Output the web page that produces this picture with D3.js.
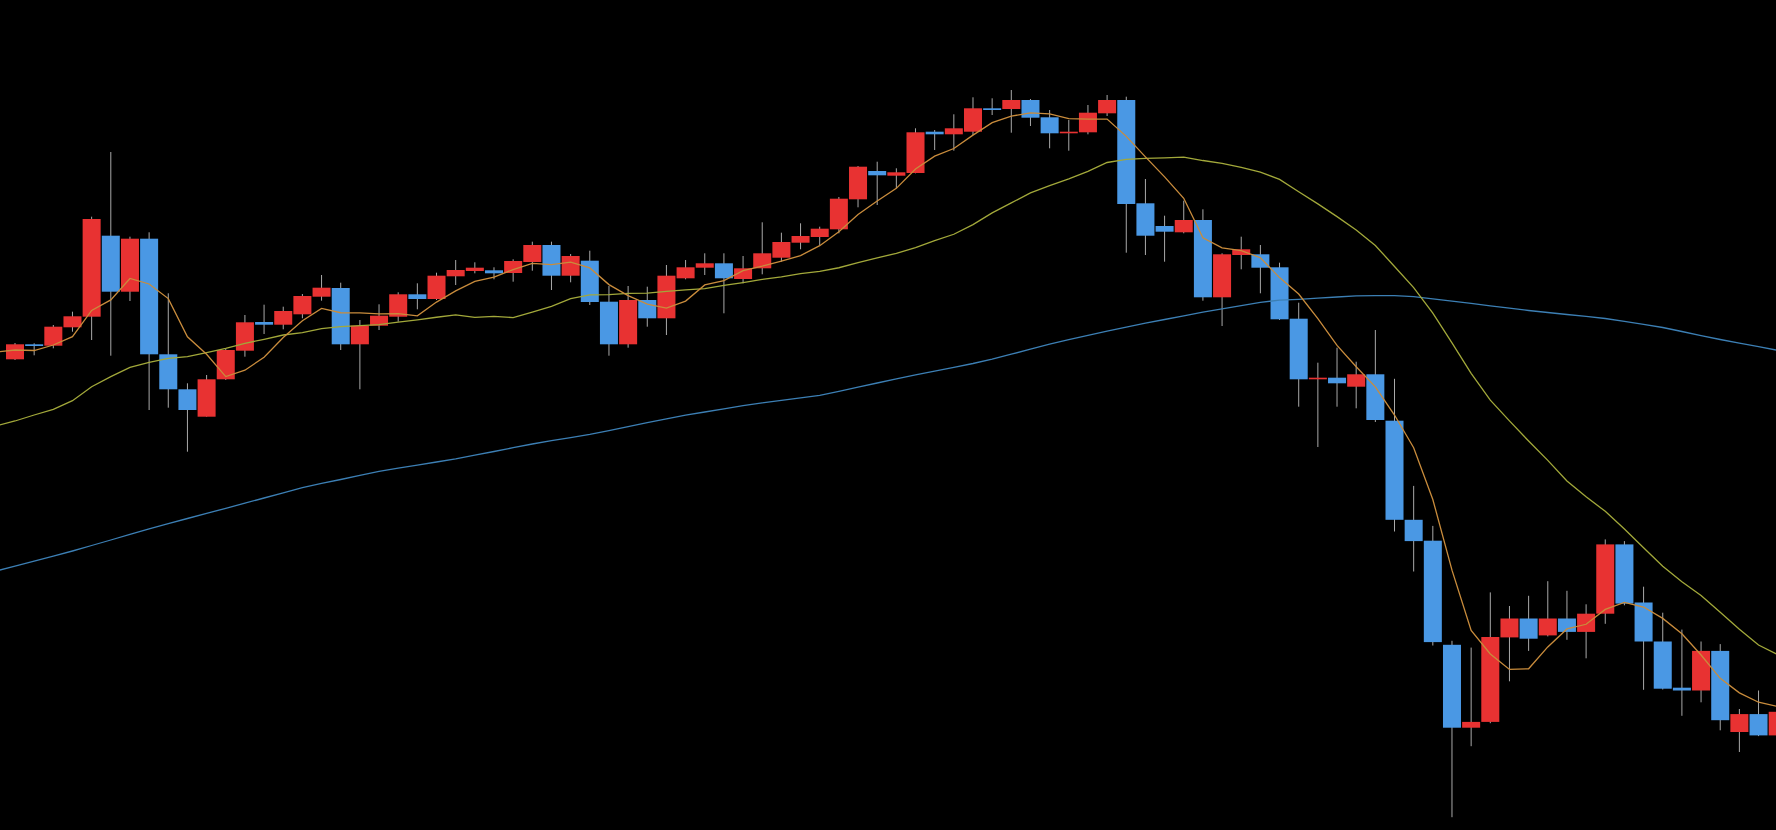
<!DOCTYPE html>
<html lang="en">
<head>
  <meta charset="UTF-8">
  <script src="https://d3js.org/d3.v7.min.js"></script>
  <style>
    body {
      background-color: #000;
      margin: 0;
      overflow: hidden;
    }

    svg {
      display: block;
    }
  </style>
</head>
<body>

<svg></svg>

<script>
  // daily bars, oldest first
  const opens = [
    640.7, 655.7, 654.3, 672.7, 683.3, 764.3, 708.3, 761.3, 645.7, 610.7,
    583.3, 620.7, 649.3, 678, 675.3, 685.7, 703.3, 712, 655.7, 674.3,
    683.3, 705.7, 701, 723.7, 729, 729.7, 727, 738, 755, 724.3,
    739.3, 698.3, 655.7, 700, 681.7, 721.7, 732.3, 736.7, 721, 731.7,
    742.3, 757.3, 763, 770.7, 800.7, 829, 824.3, 827, 868.3, 865.7,
    868.3, 891.7, 891, 900, 882.7, 866.7, 867.7, 886.7, 900, 796.7,
    774, 767.7, 780, 702.7, 745, 745.7, 732.7, 681.3, 620.7, 622.3,
    613.3, 625.7, 579.3, 480.2, 459.3, 355.2, 272.3, 278.1, 362.6, 381.5,
    364.6, 381.5, 368.1, 386.3, 455.6, 397.5, 358.5, 312.3, 309.5, 349.1,
    268, 285.9, 264.6
  ];
  const highs = [
    657, 656.7, 675, 688.3, 783.3, 848, 763.3, 767.7, 706.7, 616.7,
    625, 651, 685, 695.3, 693.3, 706, 725, 717.3, 680, 695.7,
    707.7, 716.7, 727.3, 740, 737.7, 732.7, 740.7, 758.3, 758.3, 746,
    749.3, 714, 714, 713.3, 735, 740, 746.7, 746.7, 744, 777.7,
    767.3, 776.7, 773.3, 803, 834, 838.3, 831.7, 871.7, 870, 885.7,
    902.7, 901.7, 910, 901, 890, 880, 895, 905, 903.3, 821,
    784.3, 799.3, 790.7, 746.7, 763.3, 755, 737.3, 697.3, 637.3, 652.3,
    638.3, 670, 621.2, 514.1, 474.1, 359.2, 352.4, 407.6, 394, 404.2,
    418.8, 409.2, 395.7, 460.6, 458.9, 413.3, 387.3, 370.4, 358.5, 355.9,
    291, 309.5, 290.3
  ];
  const lows = [
    640, 644.7, 651.7, 668.3, 660, 644.3, 699, 590, 592.3, 548.3,
    583.3, 620, 643.3, 666, 670.7, 681.7, 699.3, 650, 610.7, 670,
    678.3, 690.7, 700, 715, 726.7, 720.7, 718.3, 729.3, 710, 717.7,
    695, 644.3, 652.3, 673.3, 665, 720.7, 725, 686.7, 716.7, 725.7,
    738.3, 750.7, 755, 766.7, 792.7, 795, 811.7, 826.7, 850, 849.3,
    865, 885, 867.3, 874, 851.7, 849.3, 865.7, 884, 747.3, 745,
    738.3, 766.7, 699.3, 674, 730.7, 706.7, 680, 593.3, 553, 593.3,
    591.7, 578, 468.5, 428.5, 354.5, 182.8, 253.8, 276.8, 318.7, 349.1,
    363.6, 360.2, 341.7, 376.2, 394.7, 310.2, 310.5, 284.2, 297.7, 269.7,
    248, 263.9, 262
  ];
  const closes = [
    655.7, 654, 673.3, 683.7, 781, 708.3, 761.3, 645.7, 610.7, 590,
    620.7, 650, 677.7, 675.3, 689, 704, 712.3, 655.7, 674.3, 684.3,
    705.7, 701, 724.3, 730, 732.3, 726.7, 739, 755, 724.3, 744,
    698, 655.7, 700, 681.7, 724.3, 732.7, 736.7, 721.7, 731.7, 746.7,
    758, 764, 771.3, 801.3, 833.3, 824.7, 827.7, 867.7, 865.7, 871.7,
    891.7, 890, 900, 882.3, 866.7, 868.3, 887.3, 900, 796, 764.3,
    768.3, 780, 702.7, 745.7, 750.7, 732.3, 680.7, 620.7, 622.3, 616.7,
    625.7, 580, 480.2, 458.9, 357.9, 272.3, 278.1, 363, 381.5, 361.3,
    381.5, 368.1, 386.3, 455.6, 396.4, 358.5, 311.3, 309.5, 349.1, 279.8,
    285.9, 264.6, 288.2
  ];

  // the bars before the window are not shown, so the first MA points
  // (starting one bar left of the first candle) are read off the chart
  const ma5Head = [648, 650, 649.5, 655, 663.3];
  const ma20Head = [
    574, 579, 585, 590.7, 599.3, 613.3, 623.3, 632.7, 637.7, 641.7,
    643.3, 647.3, 651.7, 656.7, 660.7, 665, 667.3, 671.3, 673.3, 674.3
  ];
  // long moving average, also one bar before the first candle
  const maLong = [
    428.9, 433.9, 438.9, 443.9, 449, 454.5, 460, 465.6, 471.2, 476.4,
    481.5, 486.6, 491.7, 496.8, 502, 507.2, 512.3, 516.6, 520.5, 524.6,
    528.6, 531.8, 534.9, 538, 541.1, 544.8, 548.5, 552.3, 556, 559.3,
    562.4, 565.6, 569.3, 573.4, 577.3, 581.2, 584.8, 588, 591.2, 594.4,
    597.2, 599.7, 602.2, 604.7, 608.7, 612.8, 617, 621.2, 625.2, 628.9,
    632.7, 636.5, 640.8, 645.8, 650.8, 655.8, 660.4, 664.6, 668.8, 672.9,
    676.8, 680.5, 684.2, 687.8, 691.1, 694.4, 697.7, 699.8, 700.7, 701.8,
    703, 704.2, 704.3, 704.3, 703.4, 701.1, 698.9, 696.6, 694.2, 691.9,
    689.5, 687.5, 685.5, 683.6, 681.5, 678.6, 675.7, 672.5, 668.5, 664.4,
    660.5, 656.9, 653.3, 649.7
  ];

  const width = 1776;
  const height = 830;
  const upColor = '#e83232';
  const downColor = '#4a98e4';

  const bars = closes.map((c, i) => ({
    i, open: opens[i], high: highs[i], low: lows[i], close: c
  }));

  // moving average of closes, head values used until enough bars exist
  function movingAvg(n, head) {
    const pts = [{ i: -1, v: head[0] }];
    closes.forEach((c, i) => {
      if (i < n - 1) pts.push({ i, v: head[i + 1] });
      else pts.push({ i, v: d3.mean(closes.slice(i - n + 1, i + 1)) });
    });
    return pts;
  }

  const svg = d3.select('svg')
    .attr('width', width)
    .attr('height', height);

  svg.append('rect')
    .attr('width', width)
    .attr('height', height)
    .attr('fill', '#000');

  // bar centers
  const x = d3.scaleLinear()
    .domain([0, 92])
    .range([15, 1777.7]);
  const y = d3.scaleLinear()
    .domain([170, 1000])
    .range([height, 0]);

  const step = x(1) - x(0);
  const bodyW = step * 0.94;

  const candle = svg.append('g')
    .selectAll('g')
    .data(bars)
    .enter().append('g');

  candle.append('line')
    .attr('x1', d => x(d.i))
    .attr('x2', d => x(d.i))
    .attr('y1', d => y(d.high))
    .attr('y2', d => y(d.low))
    .attr('stroke', '#a9a9a9')
    .attr('stroke-width', 1);

  candle.append('rect')
    .attr('x', d => x(d.i) - bodyW / 2)
    .attr('width', bodyW)
    .attr('y', d => y(Math.max(d.open, d.close)))
    .attr('height', d => Math.max(1.5, Math.abs(y(d.open) - y(d.close))))
    .attr('fill', d => d.close >= d.open ? upColor : downColor);

  const line = d3.line()
    .x(d => x(d.i))
    .y(d => y(d.v));

  const longPts = maLong.map((v, k) => ({ i: k - 1, v }));

  const maSeries = [
    { pts: longPts, color: '#3c7fb4' },
    { pts: movingAvg(20, ma20Head), color: '#a2a83a' },
    { pts: movingAvg(5, ma5Head), color: '#c98c3c' }
  ];

  svg.append('g')
    .selectAll('path')
    .data(maSeries)
    .enter().append('path')
    .attr('d', d => line(d.pts))
    .attr('fill', 'none')
    .attr('stroke', d => d.color)
    .attr('stroke-width', 1.3);
</script>

</body>
</html>
